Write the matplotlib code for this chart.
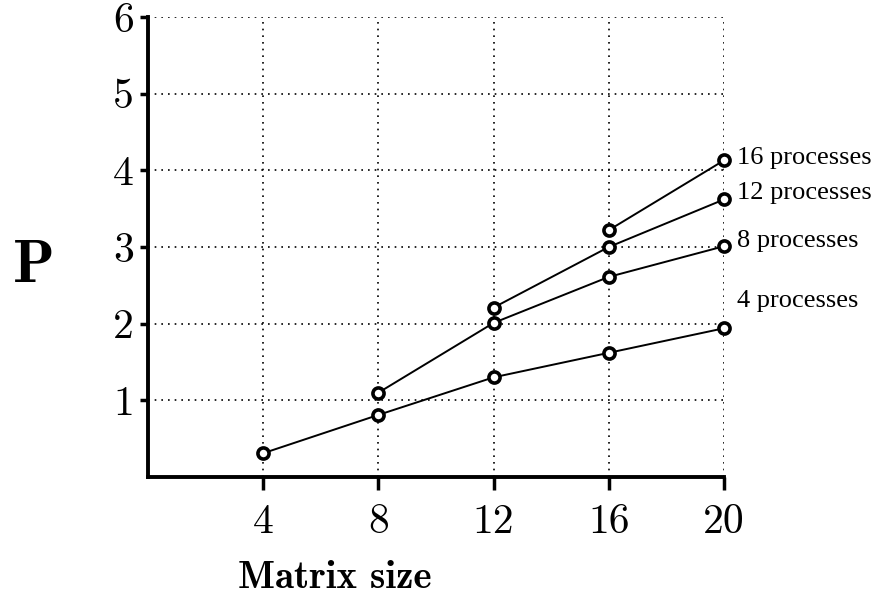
import matplotlib.pyplot as plt

# =====================================================
# Data
# =====================================================

x4 = [4, 8, 12, 16, 20]
p4 = [0.31, 0.81, 1.30, 1.62, 1.94]

x8 = [8, 12, 16, 20]
p8 = [1.10, 2.01, 2.61, 3.01]

x12 = [12, 16, 20]
p12 = [2.21, 3.00, 3.62]

x16 = [16, 20]
p16 = [3.22, 4.13]

series_labels = ["4 processes", "8 processes", "12 processes", "16 processes"]
label_y = [2.30, 3.08, 3.70, 4.16]

x_ticks = [4, 8, 12, 16, 20]
y_ticks = [1, 2, 3, 4, 5, 6]

# =====================================================
# Plot
# =====================================================

fig = plt.figure(figsize=(8.83, 6.0), dpi=100)
ax = fig.add_axes([148 / 883, 1 - 477 / 600, 576 / 883, 460 / 600])

for xs, ys in [(x4, p4), (x8, p8), (x12, p12), (x16, p16)]:
    ax.plot(
        xs, ys,
        color='black',
        linewidth=1.4,
        marker='o',
        markersize=8,
        markerfacecolor='white',
        markeredgecolor='black',
        markeredgewidth=2.6,
        clip_on=False,
        zorder=3
    )

for lab, ly in zip(series_labels, label_y):
    ax.text(20.45, ly, lab, fontsize=19, family='Liberation Serif',
            va='center', ha='left')

# =====================================================
# Axes style
# =====================================================

ax.set_xlim(0, 20)
ax.set_ylim(0, 6)
ax.set_xticks(x_ticks)
ax.set_yticks(y_ticks)

for lab in ax.get_xticklabels() + ax.get_yticklabels():
    lab.set_family('cmr10')
    lab.set_fontsize(30)

ax.tick_params(axis='x', direction='out', length=9, width=2.5, pad=10)
ax.tick_params(axis='y', direction='out', length=6, width=2.5, pad=4)

ax.grid(True, color='black', linestyle=(0, (1, 3)), linewidth=1.2)
ax.set_axisbelow(True)

ax.spines['top'].set_visible(False)
ax.spines['right'].set_visible(False)
ax.spines['left'].set_linewidth(2.8)
ax.spines['bottom'].set_linewidth(2.8)

fig.text(335 / 883, 1 - 578 / 600, "Matrix size", family='cmb10',
         fontsize=28, ha='center', va='center')
fig.text(34 / 883, 1 - 267 / 600, "P", family='cmb10',
         fontsize=44, ha='center', va='center')

plt.savefig("out.png", dpi=100)
